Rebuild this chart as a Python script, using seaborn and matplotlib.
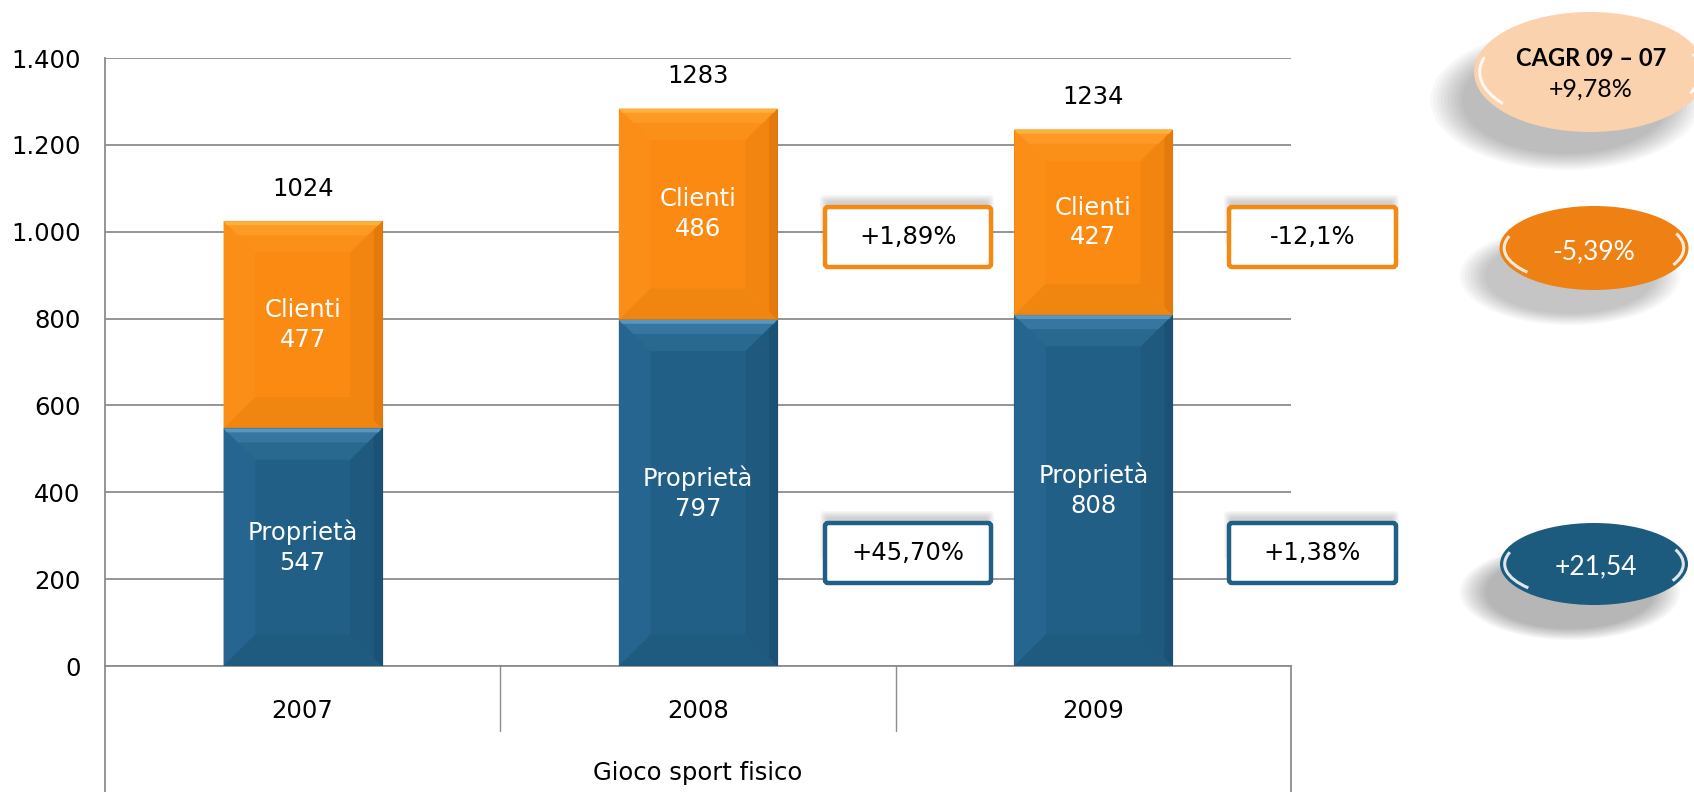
import matplotlib
matplotlib.use("Agg")
import matplotlib.pyplot as plt
import seaborn as sns
import pandas as pd
import numpy as np
from matplotlib.patches import Ellipse, FancyBboxPatch, Polygon, Arc
from matplotlib.ticker import FuncFormatter

# ---------------- data ----------------
years = ["2007", "2008", "2009"]
proprieta = [547, 797, 808]
clienti = [477, 486, 427]
totali = [1024, 1283, 1234]
var_clienti = ["+1,89%", "-12,1%"]
var_proprieta = ["+45,70%", "+1,38%"]
cagr_title = "CAGR 09 \u2013 07"
cagr_totale = "+9,78%"
cagr_clienti = "-5,39%"
cagr_proprieta = "+21,54"
group_label = "Gioco sport fisico"
y_ticks = [0, 200, 400, 600, 800, 1000, 1200, 1400]

# ---------------- style ----------------
W, H = 1694, 792
ORANGE = "#FA8A12"
ORANGE_EDGE = "#DD760C"
BLUE = "#225F86"
BLUE_EDGE = "#1A4E70"
GRID = "#8C8C8C"
FS = 17.5

sns.set_theme(style="white")
plt.rcParams["font.family"] = ["DejaVu Sans"]
plt.rcParams["text.color"] = "black"
plt.rcParams["xtick.color"] = "black"
plt.rcParams["ytick.color"] = "black"

fig = plt.figure(figsize=(W / 100, H / 100), dpi=100)
ax = fig.add_axes([105 / W, 1 - 666 / H, (1291 - 105) / W, (666 - 58) / H])

df = pd.DataFrame({"Anno": years, "Proprieta": proprieta, "Clienti": clienti})
df["Cima"] = df["Proprieta"] + df["Clienti"]

sns.barplot(data=df, x="Anno", y="Cima", color=ORANGE, saturation=1, width=0.4,
            errorbar=None, ax=ax, edgecolor=ORANGE_EDGE, linewidth=0.8, zorder=2)
sns.barplot(data=df, x="Anno", y="Proprieta", color=BLUE, saturation=1, width=0.4,
            errorbar=None, ax=ax, edgecolor=BLUE_EDGE, linewidth=0.8, zorder=3)

ax.set_xlim(-0.5, 2.5)
ax.set_ylim(0, 1400)
ax.set_xlabel("")
ax.set_ylabel("")
ax.set_yticks(y_ticks)
ax.yaxis.set_major_formatter(FuncFormatter(lambda v, _: f"{int(v):,}".replace(",", ".")))
ax.yaxis.grid(True, color=GRID, lw=1.3)
ax.xaxis.grid(False)
ax.set_axisbelow(True)
for s in ["top", "right"]:
    ax.spines[s].set_visible(False)
for s in ["left", "bottom"]:
    ax.spines[s].set_color(GRID)
    ax.spines[s].set_linewidth(1.3)
ax.tick_params(axis="y", length=6.5, width=1.3, color=GRID, pad=11, labelsize=FS, labelcolor="black")
ax.tick_params(axis="x", length=0, pad=24, labelsize=FS, labelcolor="black")

# lines below the axis (multi-level category axis)
tr = ax.get_xaxis_transform()
ax.plot([-0.5, -0.5], [0, -0.21], transform=tr, color=GRID, lw=1.3, clip_on=False)
ax.plot([2.5, 2.5], [0, -0.21], transform=tr, color=GRID, lw=1.3, clip_on=False)
for xd in [0.5, 1.5]:
    ax.plot([xd, xd], [0, -0.107], transform=tr, color=GRID, lw=1.0, clip_on=False)
ax.text(1, -0.176, group_label, transform=tr, ha="center", va="center", fontsize=FS)

# bevel decorations derived from bar geometry
orange_patches = ax.patches[:3]
blue_patches = ax.patches[3:6]


def trap(x0, x1, ya, yb, d, dx_, z, c, side):
    if side == "top":
        pts = [(x0, yb), (x1, yb), (x1 - dx_, yb - d), (x0 + dx_, yb - d)]
    else:
        pts = [(x0, ya), (x1, ya), (x1 - dx_, ya + d), (x0 + dx_, ya + d)]
    ax.add_patch(Polygon(pts, closed=True, facecolor=c, edgecolor="none", zorder=z))


def bevel(x0, w, y0, y1, cols, z):
    dx = 0.08
    dy = min(72, (y1 - y0) / 2)
    x1 = x0 + w
    left = [(x0, y0), (x0, y1), (x0 + dx, y1 - dy), (x0 + dx, y0 + dy)]
    right = [(x1, y0), (x1, y1), (x1 - dx, y1 - dy), (x1 - dx, y0 + dy)]
    ax.add_patch(Polygon(left, closed=True, facecolor=cols["left"], edgecolor="none", zorder=z))
    ax.add_patch(Polygon(right, closed=True, facecolor=cols["right"], edgecolor="none", zorder=z))
    # darker strip right at the right edge
    ax.add_patch(Polygon([(x1, y0), (x1, y1), (x1 - dx * 0.25, y1 - dy * 0.25),
                          (x1 - dx * 0.25, y0 + dy * 0.25)], closed=True,
                         facecolor=cols["right2"], edgecolor="none", zorder=z))
    trap(x0, x1, y0, y1, dy, dx, z, cols["bottom"], "bottom")
    trap(x0, x1, y0, y1, dy, dx, z, cols["top"], "top")
    trap(x0, x1, y0, y1, dy * 0.45, dx * 0.45, z, cols["top2"], "top")
    trap(x0, x1, y0, y1, min(9, dy * 0.15), dx * 0.1, z, cols["top3"], "top")


ocols = dict(left="#FB8E17", right="#F2850F", right2="#E47A0B", bottom="#F0850F",
             top="#FB9019", top2="#FC9A25", top3="#FDB13D")
bcols = dict(left="#256590", right="#1F597D", right2="#1A5174", bottom="#1F5B7F",
             top="#29698F", top2="#3676A0", top3="#5696C0")

for i, (po, pb) in enumerate(zip(orange_patches, blue_patches)):
    x0, w = po.get_x(), po.get_width()
    bevel(x0, w, pb.get_height(), po.get_height(), ocols, 2.5)
    bevel(x0, w, 0, pb.get_height(), bcols, 3.5)
    cx = x0 + w / 2
    ax.text(cx, (pb.get_height() + po.get_height()) / 2, f"Clienti\n{clienti[i]}",
            ha="center", va="center", color="white", fontsize=FS, linespacing=1.3, zorder=6)
    ax.text(cx, pb.get_height() / 2, f"Propriet\u00e0\n{proprieta[i]}",
            ha="center", va="center", color="white", fontsize=FS, linespacing=1.3, zorder=6)
    ax.annotate(str(totali[i]), xy=(cx, po.get_height()), xytext=(0, 23.5),
                textcoords="offset points", ha="center", va="center", fontsize=FS, zorder=6)

# ---------------- overlay for annotation boxes and ellipses ----------------
ov = fig.add_axes([0, 0, 1, 1], zorder=10)
ov.set_xlim(0, W)
ov.set_ylim(H, 0)
ov.axis("off")
ov.patch.set_alpha(0)


def box(xl, yt, xr, yb, text, ec):
    for k in range(6):
        g = 1 + k * 1.2
        ov.add_patch(FancyBboxPatch((xl - g + 2, yt - g - 5), (xr - xl) + 2 * g - 6, (yb - yt) * 0.6 + 2 * g,
                                    boxstyle="round,pad=0,rounding_size=4",
                                    facecolor="#000000", edgecolor="none", alpha=0.03))
    ov.add_patch(FancyBboxPatch((xl, yt), xr - xl, yb - yt,
                                boxstyle="round,pad=0,rounding_size=3",
                                facecolor="white", edgecolor=ec, linewidth=3.2))
    ov.text((xl + xr) / 2, (yt + yb) / 2, text, ha="center", va="center", fontsize=FS)


box(825, 207, 991, 267, var_clienti[0], "#F28A14")
box(1229, 207, 1396, 267, var_clienti[1], "#F28A14")
box(825, 523, 991, 583, var_proprieta[0], BLUE)
box(1229, 523, 1396, 583, var_proprieta[1], BLUE)


def pill(cx, cy, w, h, fc, shade):
    for k in range(10):
        s = 0.9 + k * 0.03
        ov.add_patch(Ellipse((cx - 24, cy + 28), w * s, h * s, facecolor="#000000",
                             edgecolor="none", alpha=shade))
    ov.add_patch(Ellipse((cx, cy), w, h, facecolor=fc, edgecolor="none"))
    # small glossy crescents at the ends
    ov.add_patch(Arc((cx, cy), w * 0.95, h * 0.86, theta1=160, theta2=188,
                     color="white", lw=2.2, alpha=0.85))
    ov.add_patch(Arc((cx, cy), w * 0.95, h * 0.86, theta1=-10, theta2=12,
                     color="white", lw=2.2, alpha=0.85))


pill(1590, 72, 232, 120, "#FBD2AE", 0.028)
ov.text(1591, 58, cagr_title, ha="center", va="center", fontsize=17,
        fontweight="bold", family=["Lato", "DejaVu Sans"])
ov.text(1591, 89, cagr_totale, ha="center", va="center", fontsize=18,
        family=["Lato", "DejaVu Sans"])

pill(1594, 248, 189, 84, "#EF8013", 0.022)
ov.text(1594, 252, cagr_clienti, ha="center", va="center", fontsize=19, color="white",
        family=["Lato", "DejaVu Sans"])

pill(1594, 564, 188, 82, "#1D5B7E", 0.03)
ov.text(1596, 567, cagr_proprieta, ha="center", va="center", fontsize=19, color="white",
        family=["Lato", "DejaVu Sans"])

fig.savefig("out.png", dpi=100)
